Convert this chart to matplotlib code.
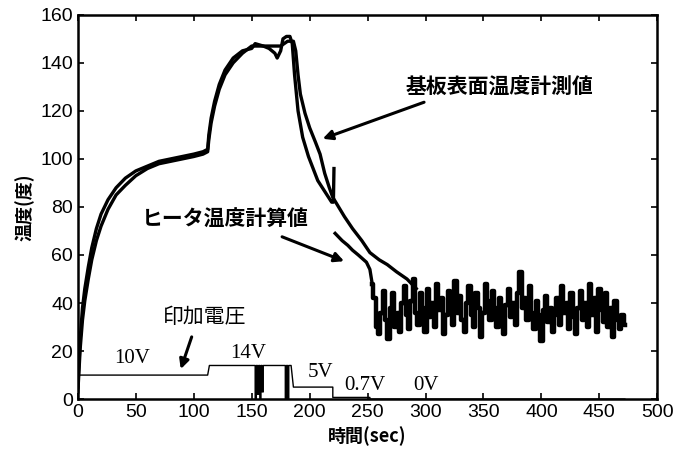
import numpy as np
import matplotlib
matplotlib.use("Agg")
import matplotlib.pyplot as plt

plt.rcParams['font.family'] = ['Liberation Sans', 'Noto Sans CJK JP', 'DejaVu Sans']

# 基板表面温度計測値 (measured substrate temperature)
meas_t = [0, 1, 2, 4, 6, 9, 12, 16, 20, 26, 33, 41, 50, 60, 70, 80, 90, 100, 108, 112,
          113, 115, 118, 122, 127, 134, 142, 150, 155, 160, 165, 170, 175, 178, 181, 184,
          186, 188, 190, 192, 196, 200, 205, 209, 213, 217, 220, 225, 230, 237, 245, 252,
          260, 267, 275, 284, 292]
meas_y = [3, 12, 21, 33, 41, 50, 58, 66, 72, 79, 85, 89, 93, 96, 98, 99, 100, 101, 102, 103,
          108, 115, 122, 129, 135, 140, 144, 147, 147, 147, 147, 147, 147, 148, 149, 149,
          149, 145, 135, 127, 119, 113, 107, 102, 94, 88, 84, 80, 76, 71, 66, 61,
          58, 56, 53, 50, 46]

# ヒータ温度計算値 (calculated heater temperature), smooth part
heat_t = [0, 1, 2, 4, 6, 9, 12, 16, 20, 26, 33, 41, 50, 60, 70, 80, 90, 100, 108, 112,
          113, 115, 118, 122, 127, 134, 142, 150, 153, 160, 165, 170, 172, 175, 177, 180,
          183, 185, 187, 190, 194, 199, 203, 207, 211, 215, 219, 220.5, 221,
          221.5, 222, 228, 233, 237, 242, 249, 252, 254]
heat_y = [5, 15, 25, 38, 46, 55, 63, 71, 77, 83, 88, 92, 95, 97, 99, 100, 101, 102, 103, 104,
          110, 117, 124, 131, 137, 142, 145, 146, 148, 147, 146, 144, 142, 145, 150, 151,
          151, 148, 135, 120, 109, 101, 96, 91, 88, 85, 82, 82, 96,
          np.nan, 69, 66, 64, 62, 60, 57, 54, 48]

# noisy tail of heater curve, every 2 sec from 256 to 472
noise_t = np.arange(256, 473, 2)
noise_y = [42, 30, 27, 36, 45, 33, 25, 38, 44, 30,
           36, 28, 40, 47, 35, 29, 41, 50, 36, 31,
           44, 38, 28, 46, 34, 40, 30, 48, 37, 42,
           27, 35, 45, 39, 31, 49, 36, 43, 33, 28,
           40, 47, 35, 30, 44, 38, 26, 36, 48, 41,
           33, 45, 38, 30, 42, 35, 27, 39, 46, 34,
           40, 31, 44, 53, 38, 42, 33, 47, 36, 29,
           41, 35, 24, 37, 43, 32, 38, 28, 35, 42,
           31, 47, 36, 40, 29, 44, 34, 27, 38, 45,
           33, 40, 30, 48, 35, 42, 28, 46, 37, 32,
           44, 30, 38, 26, 41, 33, 29, 35, 31]

# 印加電圧 (applied voltage)
volt_t = [0, 0, 112, 113.5, 153, 153, 154, 154, 155, 155, 156, 156, 157, 157, 158, 158,
          159, 159, 160, 160, 179, 179, 180, 180, 181, 181, 182, 182, 184, 186, 220, 220,
          252, 252, 472]
volt_v = [0, 10, 10, 14, 14, 0, 0, 14, 14, 2, 2, 14, 14, 0, 0, 14,
          14, 3, 3, 14, 14, 0, 0, 14, 14, 0, 0, 14, 14, 5, 5, 0.7,
          0.7, 0, 0]

fig = plt.figure(figsize=(6.89, 4.63), dpi=100)
ax = fig.add_axes([0.113, 0.138, 0.841, 0.830])

ax.plot(meas_t, meas_y, color='black', lw=2.4)
ax.plot(heat_t, heat_y, color='black', lw=2.4)
ax.plot(np.concatenate([[254], noise_t]), [48] + noise_y, color='black', lw=3.2,
        drawstyle='steps-mid')
ax.plot(volt_t, volt_v, color='black', lw=1.0)

ax.set_xlim(0, 500)
ax.set_ylim(0, 160)
ax.set_xticks(range(0, 501, 50))
ax.set_yticks(range(0, 161, 20))
ax.tick_params(direction='in', top=True, right=True, length=4, width=1.2, labelsize=14)
for s in ax.spines.values():
    s.set_linewidth(1.8)

jp = ['Noto Sans CJK JP', 'DejaVu Sans']
ax.set_ylabel('温度(度)', family=jp, fontsize=13, fontweight='bold')
ax.set_xlabel('時間(sec)', family=jp, fontsize=13, fontweight='bold')

arrow = dict(arrowstyle='-|>', color='black', lw=2.2, mutation_scale=14)
ax.text(364, 130, '基板表面温度計測値', ha='center', va='center',
        family=jp, fontsize=15, fontweight='bold')
ax.annotate('', xy=(209, 108), xytext=(301, 124), arrowprops=arrow)
ax.text(127, 75, 'ヒータ温度計算値', ha='center', va='center', family=jp,
        fontsize=15, fontweight='bold')
ax.annotate('', xy=(232, 57), xytext=(174, 68), arrowprops=arrow)
ax.text(109, 34, '印加電圧', ha='center', va='center', family=jp, fontsize=15)
ax.annotate('', xy=(88, 11.4), xytext=(99, 27), arrowprops=arrow)

serif = ['Liberation Serif']
for lbl, x, y in [('10V', 47, 17), ('14V', 147, 19), ('5V', 209, 11),
                  ('0.7V', 248, 5.5), ('0V', 300, 5.5)]:
    ax.text(x, y, lbl, ha='center', va='center', family=serif, fontsize=15)

fig.savefig('out.png', dpi=100)
